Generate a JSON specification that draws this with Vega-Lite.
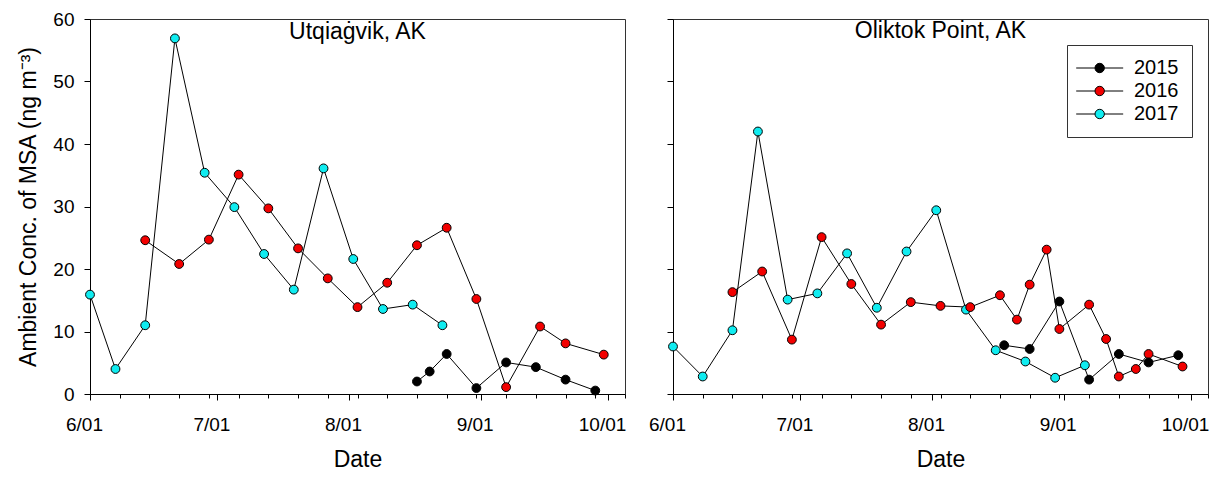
{
  "$schema": "https://vega.github.io/schema/vega-lite/v6.json",
  "background": "white",
  "padding": {"left": 17, "top": 9, "right": 5, "bottom": 5},
  "datasets": {"msa": [
    {"site": "U", "year": "2017", "date": "2001-06-01", "msa": 15.9},
    {"site": "U", "year": "2017", "date": "2001-06-07", "msa": 4.0},
    {"site": "U", "year": "2017", "date": "2001-06-14", "msa": 11.0},
    {"site": "U", "year": "2017", "date": "2001-06-21", "msa": 56.9},
    {"site": "U", "year": "2017", "date": "2001-06-28", "msa": 35.4},
    {"site": "U", "year": "2017", "date": "2001-07-05", "msa": 29.9},
    {"site": "U", "year": "2017", "date": "2001-07-12", "msa": 22.4},
    {"site": "U", "year": "2017", "date": "2001-07-19", "msa": 16.7},
    {"site": "U", "year": "2017", "date": "2001-07-26", "msa": 36.1},
    {"site": "U", "year": "2017", "date": "2001-08-02", "msa": 21.6},
    {"site": "U", "year": "2017", "date": "2001-08-09", "msa": 13.6},
    {"site": "U", "year": "2017", "date": "2001-08-16", "msa": 14.3},
    {"site": "U", "year": "2017", "date": "2001-08-23", "msa": 11.0},
    {"site": "U", "year": "2016", "date": "2001-06-14", "msa": 24.6},
    {"site": "U", "year": "2016", "date": "2001-06-22", "msa": 20.8},
    {"site": "U", "year": "2016", "date": "2001-06-29", "msa": 24.7},
    {"site": "U", "year": "2016", "date": "2001-07-06", "msa": 35.1},
    {"site": "U", "year": "2016", "date": "2001-07-13", "msa": 29.7},
    {"site": "U", "year": "2016", "date": "2001-07-20", "msa": 23.3},
    {"site": "U", "year": "2016", "date": "2001-07-27", "msa": 18.5},
    {"site": "U", "year": "2016", "date": "2001-08-03", "msa": 13.9},
    {"site": "U", "year": "2016", "date": "2001-08-10", "msa": 17.8},
    {"site": "U", "year": "2016", "date": "2001-08-17", "msa": 23.8},
    {"site": "U", "year": "2016", "date": "2001-08-24", "msa": 26.6},
    {"site": "U", "year": "2016", "date": "2001-08-31", "msa": 15.2},
    {"site": "U", "year": "2016", "date": "2001-09-07", "msa": 1.1},
    {"site": "U", "year": "2016", "date": "2001-09-15", "msa": 10.8},
    {"site": "U", "year": "2016", "date": "2001-09-21", "msa": 8.1},
    {"site": "U", "year": "2016", "date": "2001-09-30", "msa": 6.3},
    {"site": "U", "year": "2015", "date": "2001-08-17", "msa": 2.0},
    {"site": "U", "year": "2015", "date": "2001-08-20", "msa": 3.6},
    {"site": "U", "year": "2015", "date": "2001-08-24", "msa": 6.4},
    {"site": "U", "year": "2015", "date": "2001-08-31", "msa": 0.95},
    {"site": "U", "year": "2015", "date": "2001-09-07", "msa": 5.05},
    {"site": "U", "year": "2015", "date": "2001-09-14", "msa": 4.3},
    {"site": "U", "year": "2015", "date": "2001-09-21", "msa": 2.3},
    {"site": "U", "year": "2015", "date": "2001-09-28", "msa": 0.55},
    {"site": "O", "year": "2017", "date": "2001-06-01", "msa": 7.6},
    {"site": "O", "year": "2017", "date": "2001-06-08", "msa": 2.8},
    {"site": "O", "year": "2017", "date": "2001-06-15", "msa": 10.2},
    {"site": "O", "year": "2017", "date": "2001-06-21", "msa": 42.0},
    {"site": "O", "year": "2017", "date": "2001-06-28", "msa": 15.1},
    {"site": "O", "year": "2017", "date": "2001-07-05", "msa": 16.1},
    {"site": "O", "year": "2017", "date": "2001-07-12", "msa": 22.5},
    {"site": "O", "year": "2017", "date": "2001-07-19", "msa": 13.8},
    {"site": "O", "year": "2017", "date": "2001-07-26", "msa": 22.8},
    {"site": "O", "year": "2017", "date": "2001-08-02", "msa": 29.4},
    {"site": "O", "year": "2017", "date": "2001-08-09", "msa": 13.5},
    {"site": "O", "year": "2017", "date": "2001-08-16", "msa": 7.0},
    {"site": "O", "year": "2017", "date": "2001-08-23", "msa": 5.2},
    {"site": "O", "year": "2017", "date": "2001-08-30", "msa": 2.6},
    {"site": "O", "year": "2017", "date": "2001-09-06", "msa": 4.6},
    {"site": "O", "year": "2016", "date": "2001-06-15", "msa": 16.3},
    {"site": "O", "year": "2016", "date": "2001-06-22", "msa": 19.6},
    {"site": "O", "year": "2016", "date": "2001-06-29", "msa": 8.7},
    {"site": "O", "year": "2016", "date": "2001-07-06", "msa": 25.1},
    {"site": "O", "year": "2016", "date": "2001-07-13", "msa": 17.6},
    {"site": "O", "year": "2016", "date": "2001-07-20", "msa": 11.1},
    {"site": "O", "year": "2016", "date": "2001-07-27", "msa": 14.7},
    {"site": "O", "year": "2016", "date": "2001-08-03", "msa": 14.1},
    {"site": "O", "year": "2016", "date": "2001-08-10", "msa": 13.9},
    {"site": "O", "year": "2016", "date": "2001-08-17", "msa": 15.8},
    {"site": "O", "year": "2016", "date": "2001-08-21", "msa": 11.9},
    {"site": "O", "year": "2016", "date": "2001-08-24", "msa": 17.5},
    {"site": "O", "year": "2016", "date": "2001-08-28", "msa": 23.1},
    {"site": "O", "year": "2016", "date": "2001-08-31", "msa": 10.4},
    {"site": "O", "year": "2016", "date": "2001-09-07", "msa": 14.3},
    {"site": "O", "year": "2016", "date": "2001-09-11", "msa": 8.8},
    {"site": "O", "year": "2016", "date": "2001-09-14", "msa": 2.8},
    {"site": "O", "year": "2016", "date": "2001-09-18", "msa": 4.0},
    {"site": "O", "year": "2016", "date": "2001-09-21", "msa": 6.4},
    {"site": "O", "year": "2016", "date": "2001-09-29", "msa": 4.4},
    {"site": "O", "year": "2015", "date": "2001-08-18", "msa": 7.8},
    {"site": "O", "year": "2015", "date": "2001-08-24", "msa": 7.2},
    {"site": "O", "year": "2015", "date": "2001-08-31", "msa": 14.8},
    {"site": "O", "year": "2015", "date": "2001-09-07", "msa": 2.3},
    {"site": "O", "year": "2015", "date": "2001-09-14", "msa": 6.4},
    {"site": "O", "year": "2015", "date": "2001-09-21", "msa": 5.05},
    {"site": "O", "year": "2015", "date": "2001-09-28", "msa": 6.2}
  ]},
  "spacing": 48,
  "bounds": "flush",
  "hconcat": [
    {
      "width": 535,
      "height": 375,
      "title": {"text": "Utqiaġvik, AK", "frame": "group", "offset": -22, "dy": 30, "baseline": "alphabetic", "anchor": "middle", "fontSize": 23, "fontWeight": "normal", "font": "Liberation Sans", "color": "black"},
      "encoding": {
        "x": {"field": "date", "type": "temporal", "title": "Date",
          "scale": {"type": "utc", "domain": [{"year": 2001, "month": 6, "date": 1, "utc": true}, {"year": 2001, "month": 10, "date": 5, "utc": true}]},
          "axis": {
            "values": [
              {"year": 2001, "month": 6, "date": 1, "utc": true},
              {"year": 2001, "month": 6, "date": 8, "utc": true},
              {"year": 2001, "month": 6, "date": 15, "utc": true},
              {"year": 2001, "month": 6, "date": 22, "utc": true},
              {"year": 2001, "month": 6, "date": 29, "utc": true},
              {"year": 2001, "month": 7, "date": 1, "utc": true},
              {"year": 2001, "month": 7, "date": 6, "utc": true},
              {"year": 2001, "month": 7, "date": 13, "utc": true},
              {"year": 2001, "month": 7, "date": 20, "utc": true},
              {"year": 2001, "month": 7, "date": 27, "utc": true},
              {"year": 2001, "month": 8, "date": 1, "utc": true},
              {"year": 2001, "month": 8, "date": 3, "utc": true},
              {"year": 2001, "month": 8, "date": 10, "utc": true},
              {"year": 2001, "month": 8, "date": 17, "utc": true},
              {"year": 2001, "month": 8, "date": 24, "utc": true},
              {"year": 2001, "month": 8, "date": 31, "utc": true},
              {"year": 2001, "month": 9, "date": 1, "utc": true},
              {"year": 2001, "month": 9, "date": 7, "utc": true},
              {"year": 2001, "month": 9, "date": 14, "utc": true},
              {"year": 2001, "month": 9, "date": 21, "utc": true},
              {"year": 2001, "month": 9, "date": 28, "utc": true},
              {"year": 2001, "month": 10, "date": 1, "utc": true},
              {"year": 2001, "month": 10, "date": 5, "utc": true}
            ],
            "labelExpr": "utcdate(datum.value) == 1 ? utcFormat(datum.value, '%-m/%d') : ''",
            "tickSize": {"condition": {"test": "utcdate(datum.value) == 1", "value": 6}, "value": 4},
            "labelOverlap": false, "labelFlush": false, "labelOffset": -6,
            "labelPadding": 15, "titlePadding": 14
          }
        },
        "y": {"field": "msa", "type": "quantitative", "title": "Ambient Conc. of MSA (ng m⁻³)",
          "scale": {"domain": [0, 60], "nice": false},
          "axis": {"values": [0, 10, 20, 30, 40, 50, 60], "tickSize": 6, "labelPadding": 10, "titlePadding": 12}
        }
      },
      "layer": [
        {"data": {"name": "msa"}, "transform": [{"filter": "datum.site == 'U'"}],
          "mark": {"type": "line", "color": "black", "strokeWidth": 1}, "encoding": {"detail": {"field": "year", "type": "nominal"}}},
        {"data": {"name": "msa"}, "transform": [{"filter": "datum.site == 'U'"}],
          "mark": {"type": "point", "filled": true, "size": 78, "stroke": "black", "strokeWidth": 1, "opacity": 1},
          "encoding": {"color": {"field": "year", "type": "nominal",
            "scale": {"domain": ["2015", "2016", "2017"], "range": ["#000000", "#f20000", "#10ecf0"]},
            "legend": {"title": null, "orient": "none", "legendX": 977, "legendY": 26}}}}
      ]
    },
    {
      "width": 535,
      "height": 375,
      "title": {"text": "Oliktok Point, AK", "frame": "group", "offset": -22, "dy": 20, "baseline": "alphabetic", "anchor": "middle", "fontSize": 23, "fontWeight": "normal", "font": "Liberation Sans", "color": "black"},
      "encoding": {
        "x": {"field": "date", "type": "temporal", "title": "Date",
          "scale": {"type": "utc", "domain": [{"year": 2001, "month": 6, "date": 1, "utc": true}, {"year": 2001, "month": 10, "date": 5, "utc": true}]},
          "axis": {
            "values": [
              {"year": 2001, "month": 6, "date": 1, "utc": true},
              {"year": 2001, "month": 6, "date": 8, "utc": true},
              {"year": 2001, "month": 6, "date": 15, "utc": true},
              {"year": 2001, "month": 6, "date": 22, "utc": true},
              {"year": 2001, "month": 6, "date": 29, "utc": true},
              {"year": 2001, "month": 7, "date": 1, "utc": true},
              {"year": 2001, "month": 7, "date": 6, "utc": true},
              {"year": 2001, "month": 7, "date": 13, "utc": true},
              {"year": 2001, "month": 7, "date": 20, "utc": true},
              {"year": 2001, "month": 7, "date": 27, "utc": true},
              {"year": 2001, "month": 8, "date": 1, "utc": true},
              {"year": 2001, "month": 8, "date": 3, "utc": true},
              {"year": 2001, "month": 8, "date": 10, "utc": true},
              {"year": 2001, "month": 8, "date": 17, "utc": true},
              {"year": 2001, "month": 8, "date": 24, "utc": true},
              {"year": 2001, "month": 8, "date": 31, "utc": true},
              {"year": 2001, "month": 9, "date": 1, "utc": true},
              {"year": 2001, "month": 9, "date": 7, "utc": true},
              {"year": 2001, "month": 9, "date": 14, "utc": true},
              {"year": 2001, "month": 9, "date": 21, "utc": true},
              {"year": 2001, "month": 9, "date": 28, "utc": true},
              {"year": 2001, "month": 10, "date": 1, "utc": true},
              {"year": 2001, "month": 10, "date": 5, "utc": true}
            ],
            "labelExpr": "utcdate(datum.value) == 1 ? utcFormat(datum.value, '%-m/%d') : ''",
            "tickSize": {"condition": {"test": "utcdate(datum.value) == 1", "value": 6}, "value": 4},
            "labelOverlap": false, "labelFlush": false, "labelOffset": -6,
            "labelPadding": 15, "titlePadding": 14
          }
        },
        "y": {"field": "msa", "type": "quantitative", "title": null,
          "scale": {"domain": [0, 60], "nice": false},
          "axis": {"values": [0, 10, 20, 30, 40, 50, 60], "tickSize": 6, "labels": false}
        }
      },
      "layer": [
        {"data": {"name": "msa"}, "transform": [{"filter": "datum.site == 'O'"}],
          "mark": {"type": "line", "color": "black", "strokeWidth": 1}, "encoding": {"detail": {"field": "year", "type": "nominal"}}},
        {"data": {"name": "msa"}, "transform": [{"filter": "datum.site == 'O'"}],
          "mark": {"type": "point", "filled": true, "size": 78, "stroke": "black", "strokeWidth": 1, "opacity": 1},
          "encoding": {"color": {"field": "year", "type": "nominal",
            "scale": {"domain": ["2015", "2016", "2017"], "range": ["#000000", "#f20000", "#10ecf0"]},
            "legend": {"title": null, "orient": "none", "legendX": 977, "legendY": 26}}}}
      ]
    }
  ],
  "config": {
    "font": "Liberation Sans",
    "view": {"stroke": "#333333", "strokeWidth": 1},
    "axis": {"domainColor": "black", "tickColor": "black", "labelColor": "black", "titleColor": "black",
      "labelFont": "Liberation Sans", "titleFont": "Liberation Sans", "labelFontSize": 19, "titleFontSize": 23,
      "titleFontWeight": "normal", "grid": false, "domainWidth": 1, "tickWidth": 1},
    "legend": {
      "strokeColor": "#333333", "fillColor": "white", "padding": 13, "rowPadding": 3,
      "symbolType": "M-2.35,0L0.85,0M2.45,0L5.65,0M0.85,0A0.8,0.8,0,1,1,2.45,0A0.8,0.8,0,1,1,0.85,0Z",
      "symbolSize": 138, "symbolStrokeColor": "black", "symbolStrokeWidth": 1, "symbolOpacity": 1,
      "labelFont": "Liberation Sans", "labelFontSize": 20, "labelColor": "black", "labelOffset": 34
    }
  }
}
